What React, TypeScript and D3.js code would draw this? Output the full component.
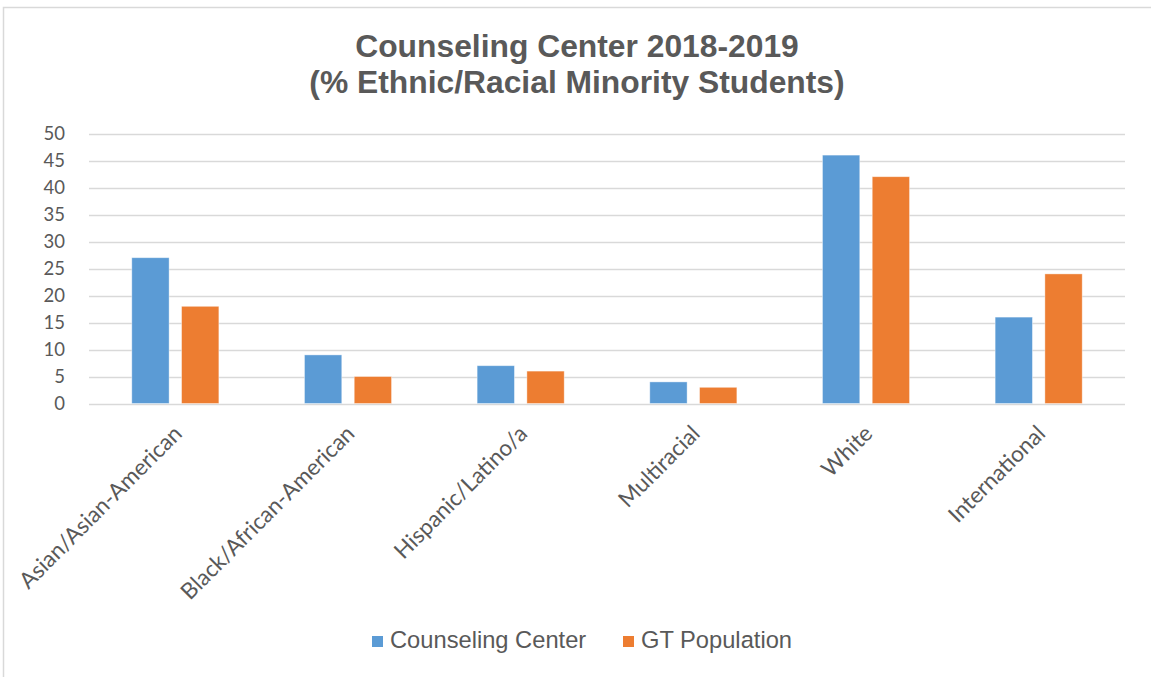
import React from "react";
import * as d3 from "d3";

const categories = [
  "Asian/Asian-American",
  "Black/African-American",
  "Hispanic/Latino/a",
  "Multiracial",
  "White",
  "International",
];
const seriesNames = ["Counseling Center", "GT Population"];
const counselingCenter = [27, 9, 7, 4, 46, 16];
const gtPopulation = [18, 5, 6, 3, 42, 24];
const yTicks = [0, 5, 10, 15, 20, 25, 30, 35, 40, 45, 50];
const titleLines = ["Counseling Center 2018-2019", "(% Ethnic/Racial Minority Students)"];
const colors = ["#5B9BD5", "#ED7D31"];

const W = 1151;
const H = 677;
const plotLeft = 89;
const plotRight = 1125;
const yZero = 403.5;
const yTop = 133.5;
const textColor = "#595959";

export default function App() {
  const x = d3.scaleBand<string>().domain(categories).range([plotLeft, plotRight]).padding(0);
  const inner = d3
    .scaleBand<number>()
    .domain([0, 1])
    .range([0, x.bandwidth()])
    .paddingInner(0.25)
    .paddingOuter(0.86);
  const y = d3.scaleLinear().domain([0, 50]).range([yZero, yTop]);
  const series = [counselingCenter, gtPopulation];

  return (
    <svg
      width={W}
      height={H}
      style={{ position: "absolute", left: 0, top: 0, background: "#fff" }}
    >
      <rect x={3.5} y={7.5} width={W + 10} height={H + 10} fill="#fff" stroke="#d9d9d9" strokeWidth={1.5} />
      {titleLines.map((t, i) => (
        <text
          key={i}
          x={577}
          y={57 + i * 36}
          textAnchor="middle"
          fontFamily="'Liberation Sans', Arial, sans-serif"
          fontWeight="bold"
          fontSize={31.8}
          fill={textColor}
        >
          {t}
        </text>
      ))}
      {yTicks.map((t) => (
        <g key={t}>
          <line
            x1={plotLeft}
            x2={plotRight}
            y1={Math.round(y(t)) + 0.5}
            y2={Math.round(y(t)) + 0.5}
            stroke="#d9d9d9"
            strokeWidth={1.3}
          />
          <text
            x={65}
            y={y(t)}
            dy="0.36em"
            textAnchor="end"
            fontFamily="Lato, 'Open Sans', sans-serif"
            fontSize={18.5}
            fill={textColor}
          >
            {t}
          </text>
        </g>
      ))}
      {categories.map((c, ci) => (
        <g key={c}>
          {series.map((s, si) => (
            <rect
              key={si}
              x={(x(c) as number) + (inner(si) as number)}
              y={y(s[ci])}
              width={inner.bandwidth()}
              height={yZero - y(s[ci])}
              fill={colors[si]}
              stroke="#ffffff"
              strokeOpacity={0.5}
              strokeWidth={0.8}
            />
          ))}
          <text
            transform={`translate(${(x(c) as number) + x.bandwidth() / 2 + 8},${435}) rotate(-45)`}
            textAnchor="end"
            fontFamily="Lato, 'Open Sans', sans-serif"
            fontSize={22.5}
            fill={textColor}
          >
            {c}
          </text>
        </g>
      ))}
      {seriesNames.map((n, i) => {
        const lx = [372, 623][i];
        return (
          <g key={n}>
            <rect x={lx} y={636} width={11} height={11} fill={colors[i]} />
            <text
              x={lx + 18}
              y={648}
              fontFamily="'Liberation Sans', Arial, sans-serif"
              fontSize={23.7}
              fill={textColor}
            >
              {n}
            </text>
          </g>
        );
      })}
    </svg>
  );
}
